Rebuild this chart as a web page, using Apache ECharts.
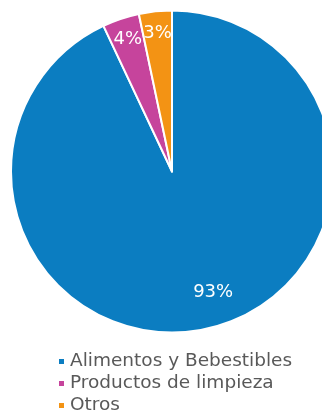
<!DOCTYPE html>
<html><head><meta charset="utf-8">
<script src="https://cdn.jsdelivr.net/npm/echarts@6/dist/echarts.min.js"></script>
<style>html,body{margin:0;padding:0;background:#fff}#c{width:322px;height:412px}</style>
</head><body><div id="c"></div>
<script>
const categories = ['Alimentos y Bebestibles', 'Productos de limpieza', 'Otros'];
const values = [93.0, 3.7, 3.3];
const labels = ['93%', '4%', '3%'];
const colors = ['#0b7dc1', '#c6449c', '#f39314'];

const chart = echarts.init(document.getElementById('c'));
const baseData = categories.map((n, i) => ({ name: n, value: values[i], itemStyle: { color: colors[i] } }));
function overlay(radius, showIdx, offset) {
  return {
    type: 'pie', radius: radius, center: [172, 171.5], startAngle: 90, clockwise: true,
    silent: true, animation: false, legendHoverLink: false,
    data: categories.map((n, i) => ({
      name: n, value: values[i],
      itemStyle: { color: 'rgba(0,0,0,0)', borderWidth: 0 },
      label: { show: showIdx.includes(i), formatter: labels[i] }
    })),
    label: { position: 'inside', color: '#fff', fontSize: 18, fontFamily: 'DejaVu Sans', offset: offset },
    labelLine: { show: false }, emphasis: { disabled: true }, tooltip: { show: false }
  };
}
chart.setOption({
  animation: false,
  legend: {
    orient: 'vertical', left: 57, top: 352, height: 100, padding: 0,
    icon: 'rect', itemWidth: 7, itemHeight: 7, itemGap: 3,
    data: categories,
    textStyle: { color: '#595959', fontSize: 18.5, fontFamily: 'DejaVu Sans' }
  },
  series: [
    {
      type: 'pie', radius: [0, 161], center: [172, 171.5], startAngle: 90, clockwise: true,
      data: baseData, label: { show: false }, labelLine: { show: false },
      itemStyle: { borderColor: '#fff', borderWidth: 2 }
    },
    overlay([91, 161], [0], [13, -5]),
    overlay([111, 161], [1, 2], [0, 0])
  ]
});
</script></body></html>
